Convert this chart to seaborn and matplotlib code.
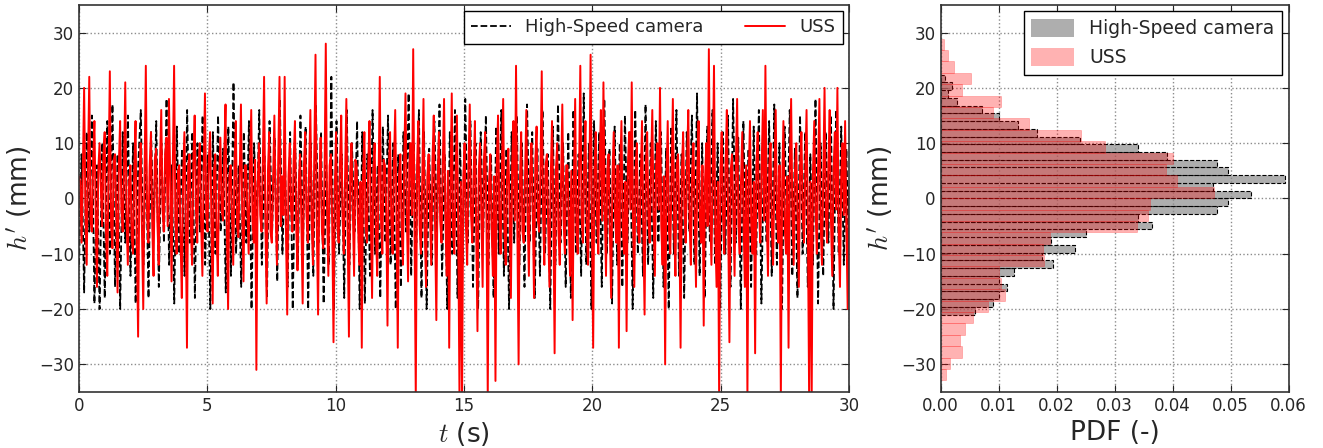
import numpy as np
import pandas as pd
import matplotlib
matplotlib.use("Agg")
import matplotlib.pyplot as plt
import seaborn as sns

# surface elevation h' (mm) from the ultrasonic sensor, ~20 samples per second over 0-30 s
uss = [
    4, 3, -8, 5, 20, -2, -12, 6, 22, -4, -6, 7, 14, -3, -16, 5, 10, 2, -5, 8,
    12, -6, -14, 4, 23, -5, -9, 7, 8, -3, -17, 6, 14, -2, -6, 5, 21, -4, -12, 3,
    6, -7, -10, 5, 14, -8, -25, 3, 10, -6, -20, 4, 24, -3, -8, 6, 12, -5, -14, 7,
    9, -4, -12, 6, 16, -2, -6, 8, 11, -5, 18, 3, -15, 6, 24, -4, -10, 5, 6, -7,
    -18, 4, 12, -3, -27, 6, 8, -5, -12, 7, 15, -2, -8, 6, 10, -4, -14, 5, 19, -3,
    -6, 7, 12, -4, -19, 5, 8, -6, -14, 3, 11, -2, -4, 8, 17, -5, -20, 4, 6, -3,
    -12, 6, 14, -5, -7, 4, 17, -3, -15, 6, 6, -2, -10, 5, 16, -4, -8, 7, -31, 2,
    10, -3, -6, 6, 22, -4, -19, 5, 12, -6, -8, 4, 15, -2, -12, 7, 22, -5, 4, -3,
    22, -6, -21, 4, 10, -2, -6, 7, 14, -5, -13, 3, 8, -4, -19, 6, 12, -3, -8, 5,
    16, -4, -12, 7, 26, -5, -21, 3, 11, -6, -9, 4, 28, -2, -14, 6, 8, -5, -26, 2,
    12, -5, -8, 6, 15, -3, -10, 4, 18, -6, -25, 5, 10, -2, -14, 7, 6, -4, -12, 3,
    -27, 4, 12, -5, -8, 6, 14, -3, -18, 5, 10, -6, -14, 2, 22, -4, -10, 7, 6, -2,
    -23, 5, 12, -4, -10, 6, 16, -3, -27, 4, 8, -5, -12, 7, 19, -2, -15, 6, 10, -3,
    27, -4, -36, 6, 14, -5, -10, 3, 18, -6, -16, 4, 8, -2, -12, 7, 15, -5, -22, 3,
    12, -4, -8, 6, 18, -3, -14, 5, -27, 2, 19, -6, -10, 4, 15, -5, -36, 3, -36, 4,
    10, -5, -12, 6, 17, -3, -8, 4, 14, -6, -24, 5, 10, -2, -16, 7, 12, -4, -36, 3,
    8, -5, -14, 4, -33, 6, 15, -3, -10, 5, 18, -6, -12, 4, 9, -2, -18, 6, 14, -4,
    24, -5, -30, 3, 12, -6, -8, 4, 16, -3, -14, 5, 10, -2, -18, 7, 13, -4, -6, 5,
    23, -3, -12, 6, 8, -5, -16, 4, 14, -2, -28, 5, 10, -6, -12, 3, 17, -4, -10, 6,
    6, -4, -14, 5, -22, 3, 18, -6, -10, 4, 24, -3, -8, 6, 14, -5, -12, 2, 26, -4,
    -27, 5, 12, -3, -10, 6, 16, -4, 21, -2, -14, 5, 8, -6, -18, 4, 12, -3, -8, 6,
    -27, 4, 14, -5, -10, 3, -24, 6, 12, -2, 21, -4, -16, 5, 10, -6, -8, 3, 14, -5,
    -21, 6, 12, -4, -8, 5, 16, -3, -14, 6, 10, -2, 20, -5, -12, 4, -30, 3, 14, -6,
    -10, 4, 18, -5, -14, 6, 8, -3, -27, 5, 12, -2, -8, 6, 16, -4, -12, 5, 10, -3,
    -16, 5, 14, -4, -8, 6, -23, 3, 10, -5, 27, -2, -12, 4, 24, -6, -16, 3, -36, 5,
    12, -3, -10, 6, 16, -4, -26, 5, 8, -2, -14, 6, 18, -5, -10, 3, 12, -4, -16, 6,
    -36, 4, 14, -5, -10, 3, -28, 6, 12, -2, -8, 5, 16, -4, 24, -3, -14, 6, 10, -5,
    -12, 4, 16, -3, -8, 6, -36, 2, 14, -5, -10, 4, -27, 6, 18, -3, -12, 5, 10, -4,
    -16, 6, 12, -3, -8, 5, 16, -4, -36, 3, -36, 5, 14, -2, -10, 6, 18, -5, -12, 4,
    20, -3, -8, 6, 16, -4, -14, 5, 12, -2, 20, -6, -16, 4, 10, -3, 14, -5, -20, 2,
]

# surface elevation h' (mm) from the high-speed camera, ~10 samples per second
camera = [
    -12, 8, -17, 12, -6, 15, -19, 6, -20, 10,
    -18, 14, -10, 17, -16, 8, -20, 12, -8, 15,
    -14, 10, -19, 6, 16, -12, 8, -18, 12, -6,
    14, -16, 10, -8, 18, -12, 6, -19, 13, -10,
    9, -14, 16, -8, 12, -18, 10, -6, 15, -12,
    8, -20, 12, -10, 15, -6, 9, -17, 13, -14,
    21, -10, 6, -16, 12, -8, 14, -20, 10, -6,
    16, -12, 8, -18, 14, -6, 11, -15, 18, -10,
    7, -16, 12, -20, 9, -12, 15, -8, 13, -20,
    10, -14, 17, -8, 12, -19, 6, -12, 22, -20,
    14, -10, 8, -18, 16, -12, 10, -6, 14, -20,
    12, -19, 8, -14, 16, -10, 6, -18, 13, -8,
    15, -12, 10, -20, 8, -16, 12, -6, 19, -14,
    10, -8, 16, -18, 12, -20, 9, -12, 14, -6,
    17, -14, 8, -20, 12, -10, 16, -18, 10, -12,
    18, -8, 14, -16, 10, -20, 12, -6, 15, -12,
    8, -18, 13, -10, 16, -14, 9, -20, 12, -8,
    15, -12, 10, -16, 17, -8, 12, -18, 9, -14,
    16, -10, 8, -20, 13, -12, 17, -8, 10, -16,
    12, -18, 16, -10, 8, -14, 19, -12, 10, -20,
    14, -8, 12, -16, 18, -10, 9, -19, 13, -12,
    10, -16, 15, -8, 12, -20, 16, -10, 8, -14,
    17, -12, 10, -18, 14, -8, 12, -16, 9, -20,
    13, -10, 16, -14, 8, -18, 12, -6, 15, -12,
    19, -14, 10, -18, 13, -8, 16, -12, 10, -20,
    12, -10, 15, -16, 18, -8, 11, -20, 14, -12,
    9, -16, 13, -10, 16, -19, 10, -8, 14, -14,
    17, -12, 10, -20, 13, -8, 16, -14, 9, -18,
    15, -10, 12, -16, 8, -12, 18, -19, 10, -14,
    12, -8, 15, -20, 16, -10, 13, -12, 9, -14,
]

# histograms (PDF), bins from bottom to top
uss_edges = np.linspace(-32.9, 28.9, 31)
uss_pdf = [0.0010, 0.0016, 0.0036, 0.0033, 0.0042, 0.0055, 0.0082, 0.0111,
           0.0104, 0.0100, 0.0179, 0.0176, 0.0189, 0.0339, 0.0357, 0.0361,
           0.0472, 0.0407, 0.0389, 0.0400, 0.0284, 0.0242, 0.0152, 0.0091,
           0.0104, 0.0036, 0.0052, 0.0023, 0.0013, 0.0006]

cam_edges = np.linspace(-21.0, 22.4, 32)
cam_pdf = [0.0060, 0.0091, 0.0100, 0.0114, 0.0100, 0.0126, 0.0194, 0.0175,
           0.0232, 0.0190, 0.0250, 0.0364, 0.0340, 0.0476, 0.0495, 0.0536,
           0.0470, 0.0593, 0.0495, 0.0476, 0.0390, 0.0340, 0.0240, 0.0167,
           0.0133, 0.0100, 0.0072, 0.0028, 0.0012, 0.0019, 0.0008]

t_uss = np.linspace(0, 30, len(uss))
t_cam = np.linspace(0, 30, len(camera))
cam_df = pd.DataFrame({'h': 0.5 * (cam_edges[1:] + cam_edges[:-1]), 'pdf': cam_pdf})
uss_df = pd.DataFrame({'h': 0.5 * (uss_edges[1:] + uss_edges[:-1]), 'pdf': uss_pdf})

sns.set_style("ticks")
plt.rcParams['font.family'] = ['DejaVu Sans']
plt.rcParams['mathtext.fontset'] = 'cm'

fig = plt.figure(figsize=(13.23, 4.48), dpi=100)
ax = fig.add_axes([0.0597, 0.125, 0.582, 0.864])
ax2 = fig.add_axes([0.711, 0.125, 0.263, 0.864])

# time series
sns.lineplot(x=t_cam, y=camera, ax=ax, color='k', linestyle='--', lw=1.3,
             label='High-Speed camera', estimator=None, sort=False)
sns.lineplot(x=t_uss, y=uss, ax=ax, color='red', lw=1.4, label='USS',
             estimator=None, sort=False)
ax.set_xlim(0, 30)
ax.set_ylim(-35, 35)
ax.set_xticks(range(0, 31, 5))
ax.set_yticks(range(-30, 31, 10))
ax.set_xlabel('$t$ (s)', fontsize=19)
ax.set_ylabel("$h'$ (mm)", fontsize=19)
ax.legend(loc='upper right', ncol=2, fontsize=13, fancybox=False,
          edgecolor='k', framealpha=1, borderaxespad=0.35,
          columnspacing=2.3, handlelength=2.2)

# PDFs
sns.histplot(data=cam_df, y='h', weights='pdf', bins=list(cam_edges), ax=ax2,
             color='0.55', alpha=0.7, edgecolor='k', linestyle='--',
             linewidth=0.8, label='High-Speed camera')
sns.histplot(data=uss_df, y='h', weights='pdf', bins=list(uss_edges), ax=ax2,
             color='red', alpha=0.3, edgecolor=(1, 0, 0, 0.3),
             linewidth=0.5, label='USS')
ax2.set_xlim(0, 0.06)
ax2.set_ylim(-35, 35)
ax2.set_yticks(range(-30, 31, 10))
ax2.set_xticks(np.arange(0, 0.061, 0.01))
ax2.xaxis.set_major_formatter(matplotlib.ticker.FormatStrFormatter('%.2f'))
ax2.set_xlabel('PDF (-)', fontsize=19)
ax2.set_ylabel("$h'$ (mm)", fontsize=19)
leg = ax2.legend(loc='upper right', fontsize=13.5, fancybox=False,
                 edgecolor='k', framealpha=1, borderaxespad=0.35,
                 handlelength=2.3, handleheight=1.1)
for h in leg.legend_handles:
    h.set_linestyle('-')
    h.set_edgecolor('none')

for a in (ax, ax2):
    a.grid(True, color='0.55', linestyle=':', linewidth=1)
    a.tick_params(direction='in', top=True, right=True, labelsize=12,
                  length=5, colors='0.15')
    for s in a.spines.values():
        s.set_visible(True)
        s.set_color('0.2')
        s.set_linewidth(1.2)

fig.savefig('out.png', dpi=100)
